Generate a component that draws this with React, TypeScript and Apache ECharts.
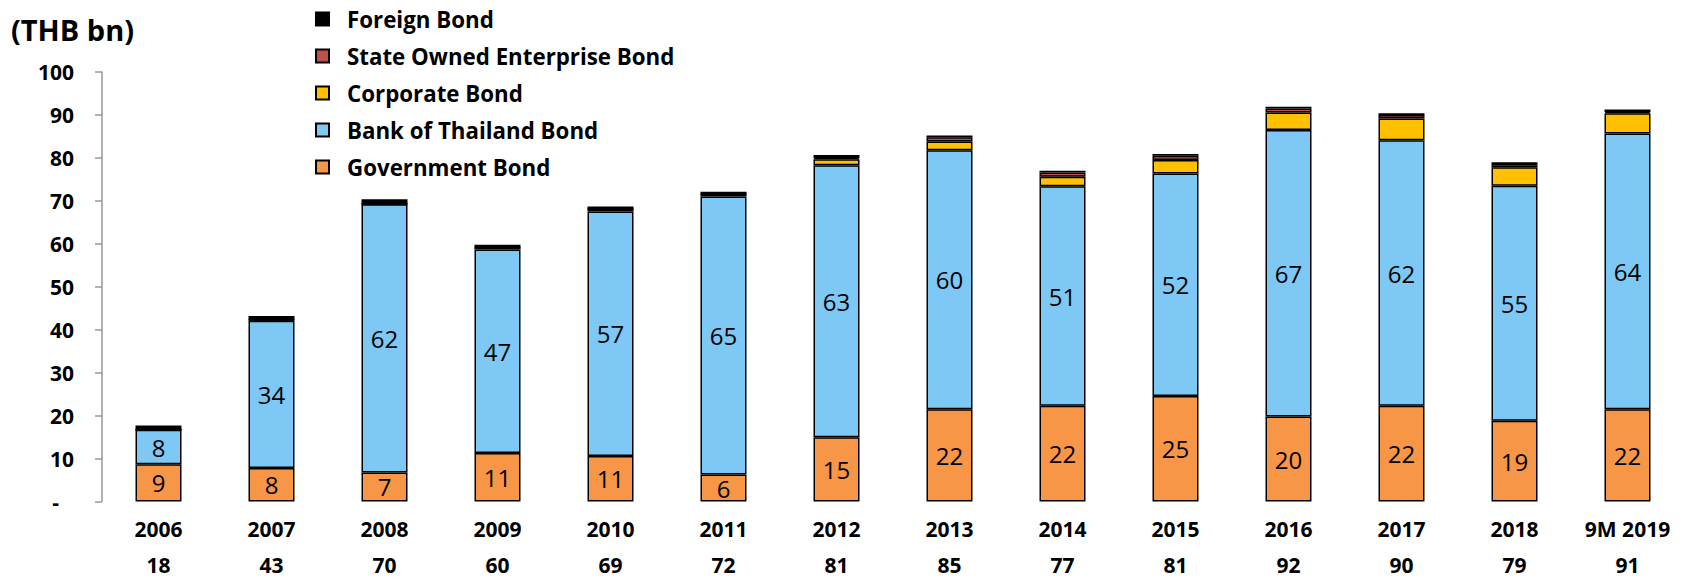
import React, { useEffect, useRef } from "react";
import * as echarts from "echarts";

const categories = ["2006", "2007", "2008", "2009", "2010", "2011", "2012", "2013", "2014", "2015", "2016", "2017", "2018", "9M 2019"];
const totals = [18, 43, 70, 60, 69, 72, 81, 85, 77, 81, 92, 90, 79, 91];
const governmentBond = [8.7, 7.8, 6.8, 11.3, 10.6, 6.3, 15.0, 21.5, 22.3, 24.6, 19.8, 22.3, 18.8, 21.5];
const bankOfThailandBond = [8.0, 34.3, 62.4, 47.4, 56.9, 64.7, 63.3, 60.3, 51.1, 51.8, 66.7, 61.8, 54.7, 64.2];
const corporateBond = [0, 0.2, 0.1, 0.4, 0.6, 0.6, 1.4, 2.0, 2.2, 3.1, 4.1, 5.1, 4.3, 4.7];
const soeBond = [0, 0, 0, 0, 0, 0, 0.3, 1.0, 1.0, 1.0, 0.9, 0.8, 0.4, 0.3];
const foreignBond = [1.0, 0.9, 1.1, 0.7, 0.6, 0.5, 0.7, 0.4, 0.4, 0.4, 0.4, 0.4, 0.8, 0.6];
const legendOrder = ["Foreign Bond", "State Owned Enterprise Bond", "Corporate Bond", "Bank of Thailand Bond", "Government Bond"];

const FONT = "'Open Sans', 'Noto Sans', sans-serif";

export default function App() {
  const ref = useRef<HTMLDivElement>(null);
  useEffect(() => {
    document.body.style.margin = "0";
    const chart = echarts.init(ref.current!, null, { renderer: "svg" });
    const mk = (name: string, data: number[], color: string, label: boolean) => ({
      name,
      type: "bar",
      stack: "total",
      barWidth: 46,
      xAxisIndex: 0,
      data,
      itemStyle: { color, borderColor: "#000", borderWidth: 1.5 },
      label: label
        ? {
            show: true,
            position: "inside",
            color: "#000",
            fontSize: 24,
            fontFamily: FONT,
            formatter: (p: any) => String(Math.round(p.value)),
          }
        : { show: false },
    });
    const catLabel = {
      interval: 0,
      fontSize: 21,
      fontWeight: "bold",
      color: "#000",
      fontFamily: FONT,
    };
    chart.setOption({
      animation: false,
      backgroundColor: "#fff",
      textStyle: { fontFamily: FONT },
      graphic: [
        {
          type: "text",
          left: 11,
          top: 15,
          style: { text: "(THB bn)", fontSize: 29, fontWeight: "bold", fill: "#000", fontFamily: FONT },
        },
      ],
      legend: {
        orient: "vertical",
        left: 310,
        top: 2,
        itemWidth: 13,
        itemHeight: 13,
        itemGap: 13,
        icon: "rect",
        data: legendOrder,
        formatter: (name: string) => `{n|${name}}`,
        textStyle: {
          fontSize: 22,
          fontWeight: "bold",
          color: "#000",
          lineHeight: 24,
          fontFamily: FONT,
          rich: {
            n: { fontSize: 22.3, fontWeight: "bold", color: "#000", lineHeight: 24, fontFamily: FONT, padding: [0, 0, 0, 13] },
          },
        },
      },
      grid: { left: 102, top: 72, width: 1590, height: 429.6 },
      xAxis: [
        {
          type: "category",
          data: categories,
          axisLine: { show: false },
          axisTick: { show: false },
          axisLabel: { ...catLabel, margin: 16, lineHeight: 22 },
        },
        {
          type: "category",
          position: "bottom",
          offset: 42,
          data: totals.map(String),
          axisLine: { show: false },
          axisTick: { show: false },
          axisLabel: { ...catLabel, margin: 12.9, lineHeight: 16 },
        },
      ],
      yAxis: {
        type: "value",
        min: 0,
        max: 100,
        interval: 10,
        splitLine: { show: false },
        axisLine: { show: true, lineStyle: { color: "#999", width: 1.5 } },
        axisTick: { show: true, length: 7, lineStyle: { color: "#999", width: 1.5 } },
        axisLabel: {
          margin: 28,
          fontSize: 21,
          fontWeight: "bold",
          color: "#000",
          fontFamily: FONT,
          formatter: (v: number) => (v === 0 ? "{d|-}" : String(v)),
          rich: {
            d: { fontSize: 21, fontWeight: "bold", color: "#000", padding: [0, 15, 0, 0], fontFamily: FONT },
          },
        },
      },
      series: [
        mk("Government Bond", governmentBond, "#F79646", true),
        mk("Bank of Thailand Bond", bankOfThailandBond, "#7EC8F5", true),
        mk("Corporate Bond", corporateBond, "#FFC000", false),
        mk("State Owned Enterprise Bond", soeBond, "#C0504D", false),
        mk("Foreign Bond", foreignBond, "#000000", false),
      ],
    });
    return () => chart.dispose();
  }, []);
  return <div ref={ref} style={{ width: 1684, height: 579 }} />;
}
